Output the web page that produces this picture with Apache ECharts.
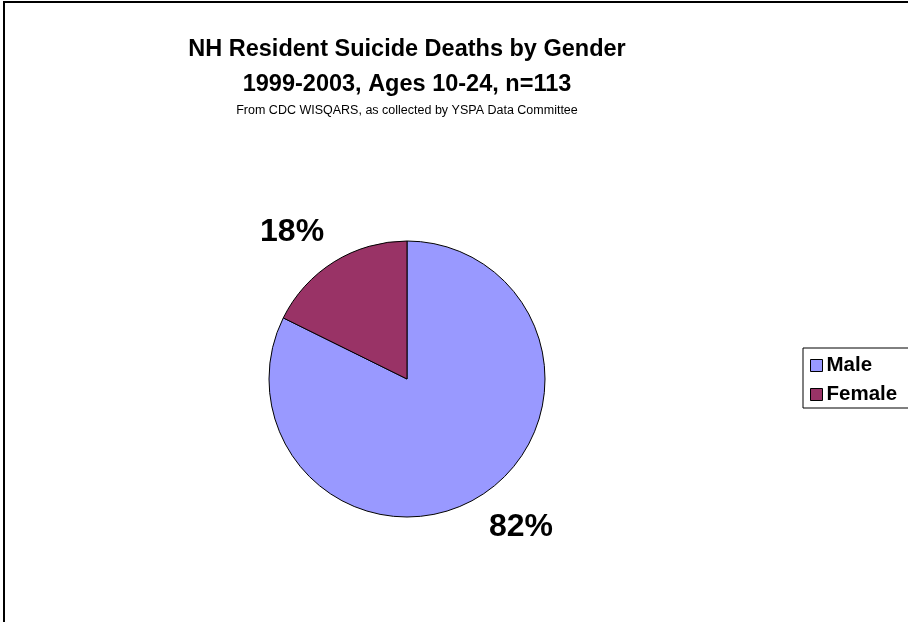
<!DOCTYPE html>
<html>
<head>
<meta charset="utf-8">
<script src="https://cdn.jsdelivr.net/npm/echarts@6/dist/echarts.min.js"></script>
<style>
  html, body { margin: 0; padding: 0; background: #fff; }
  #chart { width: 908px; height: 622px; }
</style>
</head>
<body>
<div id="chart"></div>
<script>
// Suicide deaths of NH residents aged 10-24, 1999-2003, by gender (n = 113)
const genders = ['Male', 'Female'];
const deaths = [93, 20];
const sliceColors = ['#9999FF', '#993366'];

const titleLines = ['NH Resident Suicide Deaths by Gender', '1999-2003, Ages 10-24, n=113'];
const sourceNote = 'From CDC WISQARS, as collected by YSPA Data Committee';

const FONT = '"Liberation Sans", Arial, sans-serif';

const chart = echarts.init(document.getElementById('chart'), null, { renderer: 'canvas' });

chart.setOption({
  animation: false,
  backgroundColor: '#ffffff',
  title: {
    text: titleLines.join('\n'),
    subtext: sourceNote,
    left: 407,
    top: 32,
    textAlign: 'center',
    padding: 0,
    itemGap: 2,
    textStyle: {
      fontFamily: FONT,
      fontSize: 23.5,
      fontWeight: 'bold',
      color: '#000',
      lineHeight: 35
    },
    subtextStyle: {
      fontFamily: FONT,
      fontSize: 12.5,
      color: '#000'
    }
  },
  legend: {
    orient: 'vertical',
    left: 803,
    top: 348,
    padding: [7, 12, 3, 7],
    itemGap: 8,
    itemWidth: 12,
    itemHeight: 12,
    icon: 'rect',
    borderColor: '#000',
    borderWidth: 1,
    backgroundColor: '#fff',
    itemStyle: { borderColor: '#000', borderWidth: 1 },
    textStyle: {
      fontFamily: FONT,
      fontSize: 20.5,
      fontWeight: 'bold',
      color: '#000',
      padding: [0, 0, 0, -1]
    },
    data: genders
  },
  graphic: [{
    type: 'polyline',
    shape: { points: [[4, 622], [4, 2], [908, 2]] },
    style: { stroke: '#000', lineWidth: 2, fill: null },
    silent: true
  }],
  series: [{
    type: 'pie',
    center: [407, 379],
    radius: 138,
    startAngle: 90,
    clockwise: true,
    data: genders.map((g, i) => ({
      name: g,
      value: deaths[i],
      itemStyle: { color: sliceColors[i] }
    })),
    itemStyle: { borderColor: '#000', borderWidth: 1 },
    emphasis: { disabled: true },
    label: {
      show: true,
      position: 'outside',
      formatter: p => Math.round(p.percent) + '%',
      fontFamily: FONT,
      fontSize: 32,
      fontWeight: 'bold',
      color: '#000',
      distanceToLabelLine: 0
    },
    labelLine: { show: false, length: 38, length2: 0 },
    labelLayout: p => (p.dataIndex === 0 ? { dx: -11, dy: -1 } : { dx: 10, dy: 3 })
  }]
});
</script>
</body>
</html>
